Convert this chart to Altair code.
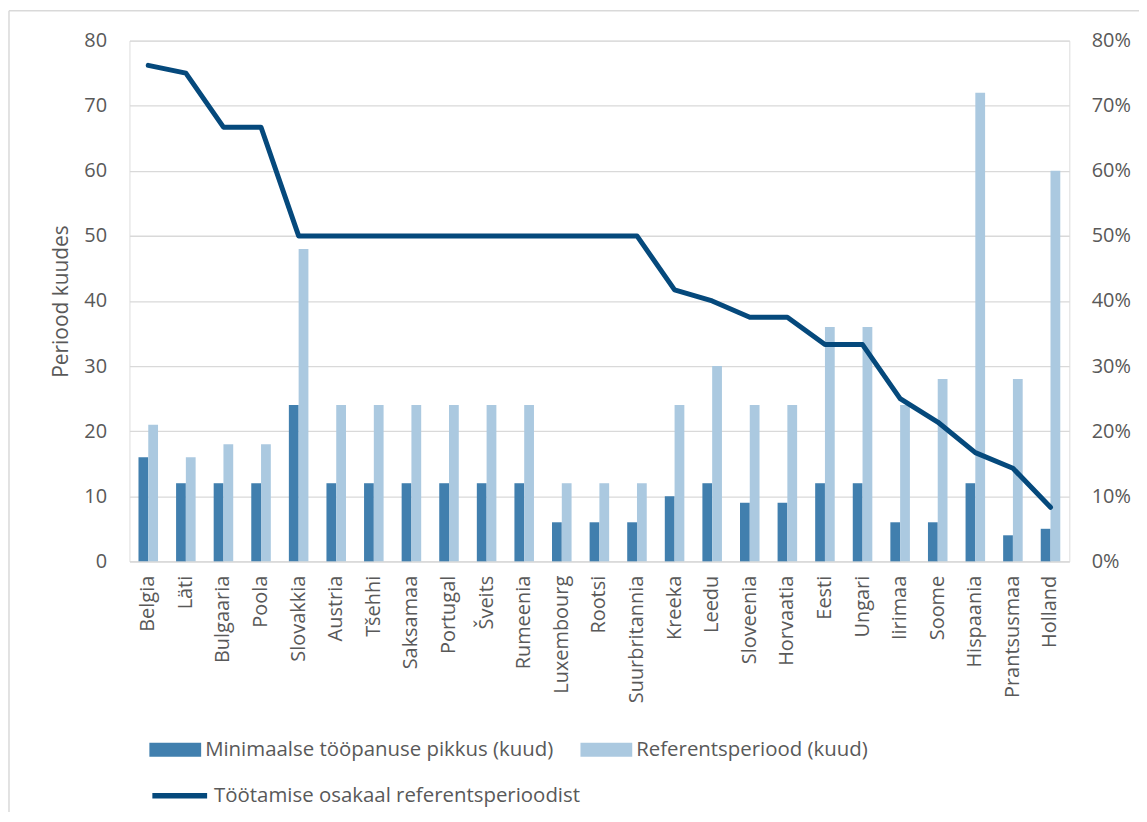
import altair as alt
import pandas as pd

countries = ["Belgia", "Läti", "Bulgaaria", "Poola", "Slovakkia", "Austria", "Tšehhi",
             "Saksamaa", "Portugal", "Šveits", "Rumeenia", "Luxembourg", "Rootsi",
             "Suurbritannia", "Kreeka", "Leedu", "Sloveenia", "Horvaatia", "Eesti",
             "Ungari", "Iirimaa", "Soome", "Hispaania", "Prantsusmaa", "Holland"]
min_contrib = [16, 12, 12, 12, 24, 12, 12, 12, 12, 12, 12, 6, 6, 6, 10, 12, 9, 9, 12, 12, 6, 6, 12, 4, 5]
ref_period = [21, 16, 18, 18, 48, 24, 24, 24, 24, 24, 24, 12, 12, 12, 24, 30, 24, 24, 36, 36, 24, 28, 72, 28, 60]
share = [0.762, 0.75, 0.667, 0.667, 0.50, 0.50, 0.50, 0.50, 0.50, 0.50, 0.50, 0.50, 0.50,
         0.50, 0.417, 0.40, 0.375, 0.375, 0.333, 0.333, 0.25, 0.214, 0.167, 0.143, 0.083]

s1 = "Minimaalse tööpanuse pikkus (kuud)"
s2 = "Referentsperiood (kuud)"
s3 = "Töötamise osakaal referentsperioodist"

bars_df = pd.DataFrame(
    [{"country": c, "series": s1, "value": v} for c, v in zip(countries, min_contrib)]
    + [{"country": c, "series": s2, "value": v} for c, v in zip(countries, ref_period)]
)
line_df = pd.DataFrame({"country": countries, "share": share, "lbl": [s3] * len(countries)})

FONT = "Open Sans"
TXT = "#595959"
GRID = "#d9d9d9"

xscale = alt.Scale(domain=countries, paddingInner=0.48, paddingOuter=0.24)
xaxis = alt.Axis(title=None, labelAngle=-90, labelAlign="right", labelBaseline="middle",
                 labelPadding=14, ticks=False, domainColor=GRID, domainWidth=1.3,
                 labelFontSize=20, labelColor=TXT, labelFont=FONT, grid=False)

bars = alt.Chart(bars_df).mark_bar().encode(
    x=alt.X("country:N", scale=xscale, axis=xaxis, sort=countries),
    xOffset=alt.XOffset("series:N", scale=alt.Scale(domain=[s1, s2], paddingInner=0, paddingOuter=0)),
    y=alt.Y("value:Q", scale=alt.Scale(domain=[0, 80], nice=False),
            axis=alt.Axis(title="Periood kuudes", values=list(range(0, 81, 10)),
                          grid=True, gridColor=GRID, gridWidth=1.3, domain=False, ticks=False,
                          labelPadding=23, labelFontSize=20, labelColor=TXT, labelFont=FONT,
                          titleFontSize=21, titleColor=TXT, titleFont=FONT,
                          titleFontWeight="normal", titlePadding=12)),
    color=alt.Color("series:N", scale=alt.Scale(domain=[s1, s2], range=["#417fae", "#abc9e0"]),
                    legend=alt.Legend(title=None, orient="none", legendX=20, legendY=686,
                                      direction="horizontal", columns=2, columnPadding=26,
                                      symbolType="M-1,-0.27H1V0.27H-1Z", symbolSize=2704,
                                      symbolStrokeWidth=0, labelOffset=4,
                                      labelFontSize=20.5, labelColor=TXT, labelFont=FONT,
                                      labelLimit=600)),
)

line = alt.Chart(line_df).mark_line(strokeWidth=5, strokeCap="round", strokeJoin="round").encode(
    x=alt.X("country:N", scale=xscale, sort=countries),
    y=alt.Y("share:Q", scale=alt.Scale(domain=[0, 0.8], nice=False),
            axis=alt.Axis(title=None, orient="right", format=".0%",
                          values=[i / 10 for i in range(0, 9)], grid=False, domain=False,
                          ticks=False, labelPadding=22, labelFontSize=20, labelColor=TXT,
                          labelFont=FONT)),
    stroke=alt.Stroke("lbl:N", scale=alt.Scale(domain=[s3], range=["#05497c"]),
                      legend=alt.Legend(title=None, orient="none", legendX=20, legendY=728,
                                        symbolType="stroke", symbolSize=3025,
                                        symbolStrokeWidth=5.5, labelOffset=4,
                                        labelFontSize=20.5, labelColor=TXT, labelFont=FONT,
                                        labelLimit=600)),
)

border_left = alt.Chart(alt.Data(values=[{}])).mark_rule(color=GRID, strokeWidth=1.5).encode(
    x=alt.value(-121), y=alt.value(-30), y2=alt.value(800))
border_top = alt.Chart(alt.Data(values=[{}])).mark_rule(color=GRID, strokeWidth=1.5).encode(
    x=alt.value(-121), x2=alt.value(1100), y=alt.value(-30))

chart = alt.layer(bars, line, border_left, border_top).resolve_scale(
    y="independent", color="independent", stroke="independent"
).properties(
    width=944, height=523,
    padding={"left": 122, "top": 31, "right": 70, "bottom": 250},
    autosize="none",
).configure_view(stroke=None).configure(background="white")

chart.save("out.html", embed_options={"renderer": "svg", "actions": False})
